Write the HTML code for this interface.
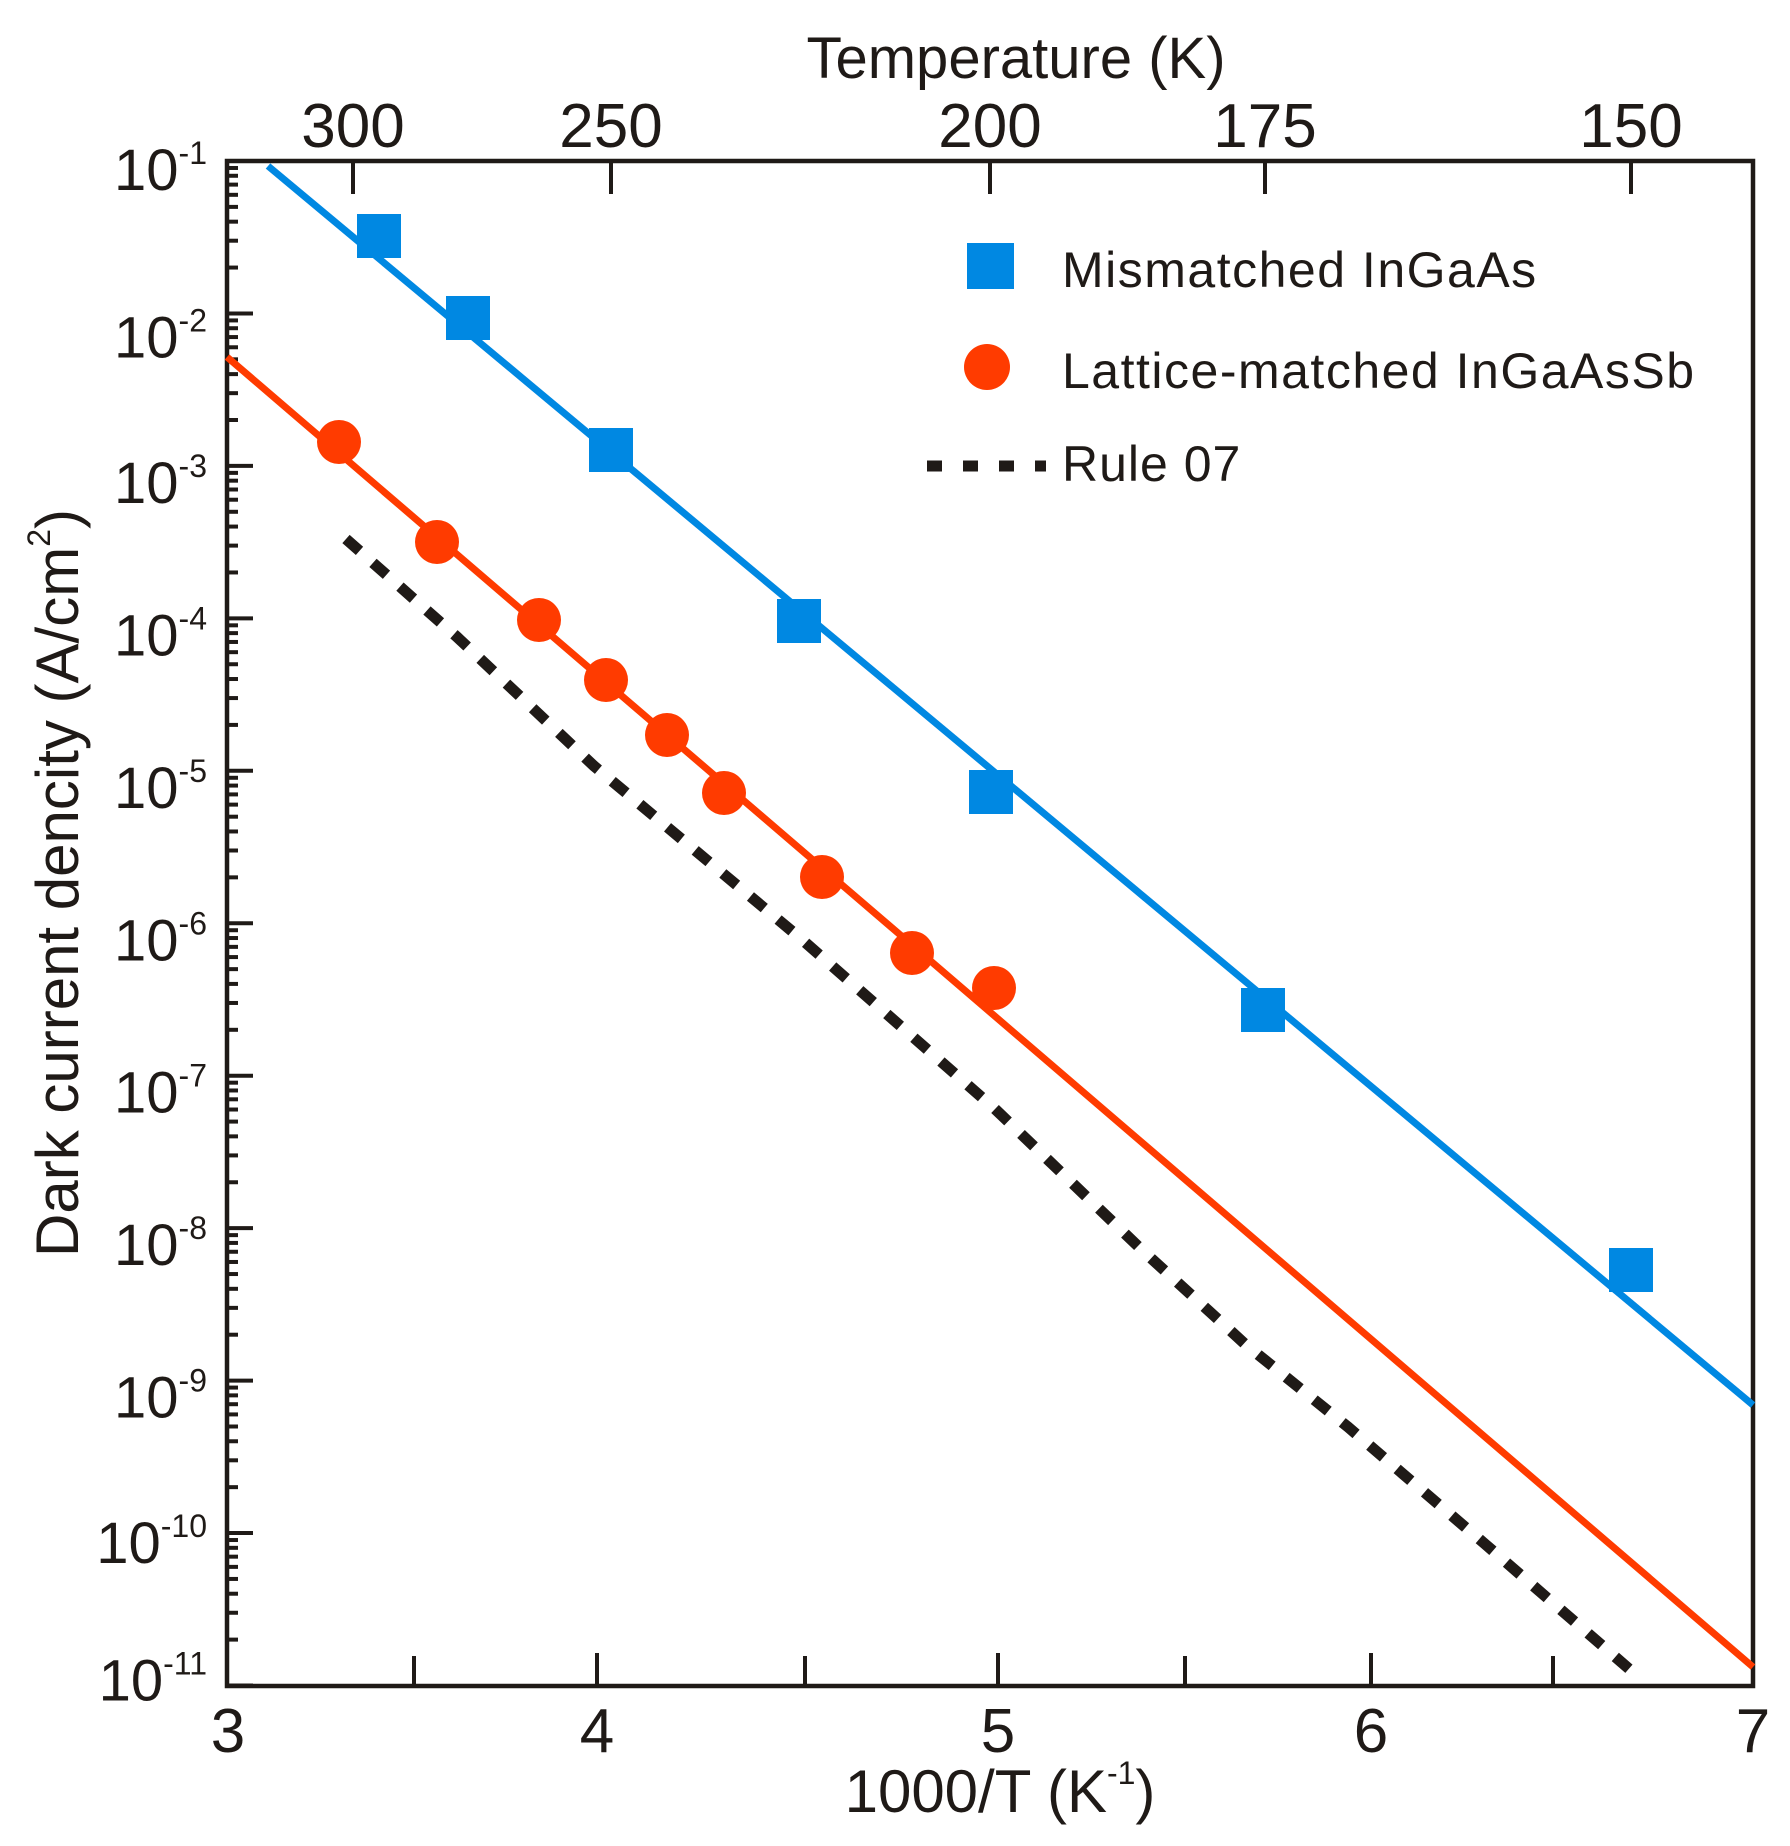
<!DOCTYPE html>
<html><head><meta charset="utf-8"><style>
html,body{margin:0;padding:0;background:#fff}
svg{display:block}
text{font-family:"Liberation Sans",Arial,sans-serif;fill:#1f1a17}
</style></head><body>
<svg width="1790" height="1846" viewBox="0 0 1790 1846" xmlns="http://www.w3.org/2000/svg">
<rect width="1790" height="1846" fill="#fff"/>
<g id="yticks" stroke="#1f1a17" stroke-width="4"></g>
<g stroke="#1f1a17" stroke-width="4">
<line x1="414" y1="1686" x2="414" y2="1656"/>
<line x1="597" y1="1686" x2="597" y2="1653"/>
<line x1="805" y1="1686" x2="805" y2="1656"/>
<line x1="998" y1="1686" x2="998" y2="1653"/>
<line x1="1185" y1="1686" x2="1185" y2="1656"/>
<line x1="1371" y1="1686" x2="1371" y2="1653"/>
<line x1="1553" y1="1686" x2="1553" y2="1656"/>
<line x1="353" y1="161" x2="353" y2="194"/>
<line x1="611" y1="161" x2="611" y2="194"/>
<line x1="990" y1="161" x2="990" y2="194"/>
<line x1="1265" y1="161" x2="1265" y2="194"/>
<line x1="1631" y1="161" x2="1631" y2="194"/>
</g>
<rect x="227" y="161" width="1526" height="1525" fill="none" stroke="#1f1a17" stroke-width="4.5"/>

<line x1="268" y1="166" x2="1753" y2="1405" stroke="#0088e2" stroke-width="7"/>
<line x1="227" y1="357" x2="1753" y2="1667" stroke="#ff3b00" stroke-width="7"/>
<polyline points="346,539 457,637 594,766 799,937 994,1108 1142,1250 1245,1344 1348,1427 1485,1544 1635,1674" fill="none" stroke="#1f1a17" stroke-width="11" stroke-dasharray="18 18"/>

<g fill="#0088e2">
<rect x="357" y="214" width="44" height="44"/>
<rect x="446" y="296" width="44" height="44"/>
<rect x="589" y="428" width="44" height="44"/>
<rect x="777" y="599" width="44" height="44"/>
<rect x="969" y="770" width="44" height="44"/>
<rect x="1241" y="988" width="44" height="44"/>
<rect x="1609" y="1248" width="44" height="44"/>
</g>
<g fill="#ff3b00">
<circle cx="339" cy="442" r="22"/>
<circle cx="437" cy="542" r="22"/>
<circle cx="539" cy="620" r="22"/>
<circle cx="606" cy="680" r="22"/>
<circle cx="667" cy="735" r="22"/>
<circle cx="724" cy="793" r="22"/>
<circle cx="822" cy="877" r="22"/>
<circle cx="912" cy="953" r="22"/>
<circle cx="994" cy="988" r="22"/>
</g>

<rect x="967" y="243" width="47" height="46" fill="#0088e2"/>
<ellipse cx="987" cy="367" rx="23" ry="23" fill="#ff3b00"/>
<line x1="927" y1="466" x2="1046" y2="466" stroke="#1f1a17" stroke-width="11" stroke-dasharray="15 21"/>
<text x="1062" y="287" font-size="50" letter-spacing="1.5">Mismatched InGaAs</text>
<text x="1062" y="388" font-size="50" letter-spacing="1.5">Lattice-matched InGaAsSb</text>
<text x="1062" y="481" font-size="50" letter-spacing="1">Rule 07</text>

<g font-size="62" text-anchor="middle">
<text x="228" y="1752">3</text>
<text x="597" y="1752">4</text>
<text x="998" y="1752">5</text>
<text x="1371" y="1752">6</text>
<text x="1753" y="1752">7</text>
<text x="353" y="147">300</text>
<text x="611" y="147">250</text>
<text x="990" y="147">200</text>
<text x="1265" y="147">175</text>
<text x="1631" y="147">150</text>
</g>
<text x="1000" y="1812" font-size="60" text-anchor="middle">1000/T (K<tspan font-size="32" dy="-28">-1</tspan><tspan dy="28">)</tspan></text>
<text x="1016" y="78" font-size="58" text-anchor="middle">Temperature (K)</text>
<text transform="translate(78,883) rotate(-90)" font-size="60" text-anchor="middle">Dark current dencity (A/cm<tspan font-size="32" dy="-28">2</tspan><tspan dy="28">)</tspan></text>

<g id="ylabels" font-size="58" text-anchor="end"></g>
<script>
(function(){
 var ns="http://www.w3.org/2000/svg";
 var g=document.getElementById("yticks"), gl=document.getElementById("ylabels");
 var y0=161, d=152.45;
 for(var k=0;k<=10;k++){
   var yb=y0+k*d;
   var l=document.createElementNS(ns,"line");
   l.setAttribute("x1",227);l.setAttribute("x2",253);l.setAttribute("y1",yb);l.setAttribute("y2",yb);g.appendChild(l);
   if(k<10){
     for(var m=2;m<=9;m++){
       var y=yb+d-d*Math.log10(m);
       var t=document.createElementNS(ns,"line");
       t.setAttribute("x1",227);t.setAttribute("x2",238);t.setAttribute("y1",y);t.setAttribute("y2",y);g.appendChild(t);
     }
   }
   var off=[29,44,37,37,37,37,37,37,37,30,15][k];
   var tx=document.createElementNS(ns,"text");
   tx.setAttribute("x",207);tx.setAttribute("y",yb+off);
   tx.appendChild(document.createTextNode("10"));
   var sp=document.createElementNS(ns,"tspan");
   sp.setAttribute("font-size","32");sp.setAttribute("dy","-26");
   sp.textContent="-"+(k+1);
   tx.appendChild(sp);
   gl.appendChild(tx);
 }
})();
</script>
</svg>
</body></html>
